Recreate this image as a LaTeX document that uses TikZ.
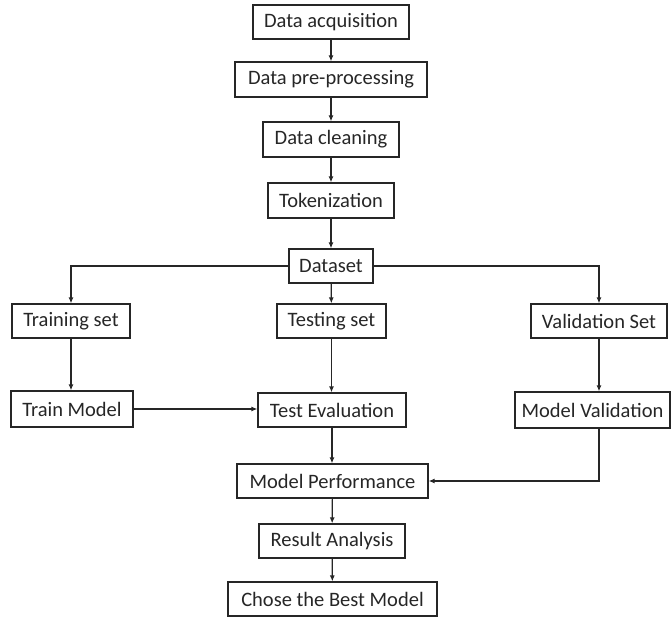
\documentclass[tikz,border=0pt]{standalone}
\usepackage{fontspec}
\setmainfont{Carlito}
\usetikzlibrary{arrows.meta}
\begin{document}
\begin{tikzpicture}[x=1pt,y=-1pt,
  box/.style={draw=black!85,line width=1.2pt,inner sep=0pt,align=center,
    font=\fontsize{20.5}{24}\selectfont,text=black!85},
  conn/.style={draw=black!85,line width=1.2pt,-{Latex[length=6pt,width=5pt]}}]
\useasboundingbox (0,0) rectangle (671,617);
\node[box,minimum width=156pt,minimum height=34pt] (acq) at (331,22) {Data acquisition};
\node[box,minimum width=192pt,minimum height=35pt] (pre) at (331,79.5) {Data pre-processing};
\node[box,minimum width=136pt,minimum height=35pt] (clean) at (331,139.5) {Data cleaning};
\node[box,minimum width=126pt,minimum height=35pt] (tok) at (331,200.5) {Tokenization};
\node[box,minimum width=84pt,minimum height=34pt] (ds) at (331,266) {Dataset};
\node[box,minimum width=109pt,minimum height=34pt] (test) at (331.5,321) {Testing set};
\node[box,minimum width=148pt,minimum height=34pt] (teval) at (332,410) {Test Evaluation};
\node[box,minimum width=118pt,minimum height=34pt] (train) at (71,321) {Training set};
\node[box,minimum width=122pt,minimum height=36pt] (tmodel) at (72,409) {Train Model};
\node[box,minimum width=136pt,minimum height=34pt] (vset) at (599,321) {Validation Set};
\node[box,minimum width=155pt,minimum height=36pt] (mval) at (592.5,410) {Model Validation};
\node[box,minimum width=191pt,minimum height=34pt] (perf) at (332.5,481) {Model Performance};
\node[box,minimum width=146pt,minimum height=34pt] (res) at (332,541) {Result Analysis};
\node[box,minimum width=209pt,minimum height=34pt] (best) at (332.5,599) {Chose the Best Model};
\draw[conn] (acq) -- (pre);
\draw[conn] (pre) -- (clean);
\draw[conn] (clean) -- (tok);
\draw[conn] (tok) -- (ds);
\draw[conn] (ds) -- (test);
\draw[conn] (ds.west) -| (train.north);
\draw[conn] (ds.east) -| (vset.north);
\draw[conn] (train) -- (train.south |- tmodel.north);
\draw[conn] (test) -- (test.south |- teval.north);
\draw[conn] (vset) -- (vset.south |- mval.north);
\draw[conn] (tmodel.east) -- (tmodel.east -| teval.west);
\draw[conn] (teval) -- (teval.south |- perf.north);
\draw[conn] (mval.south -| vset.south) |- (perf.east);
\draw[conn] (perf) -- (res);
\draw[conn] (res) -- (best);
\end{tikzpicture}
\end{document}
